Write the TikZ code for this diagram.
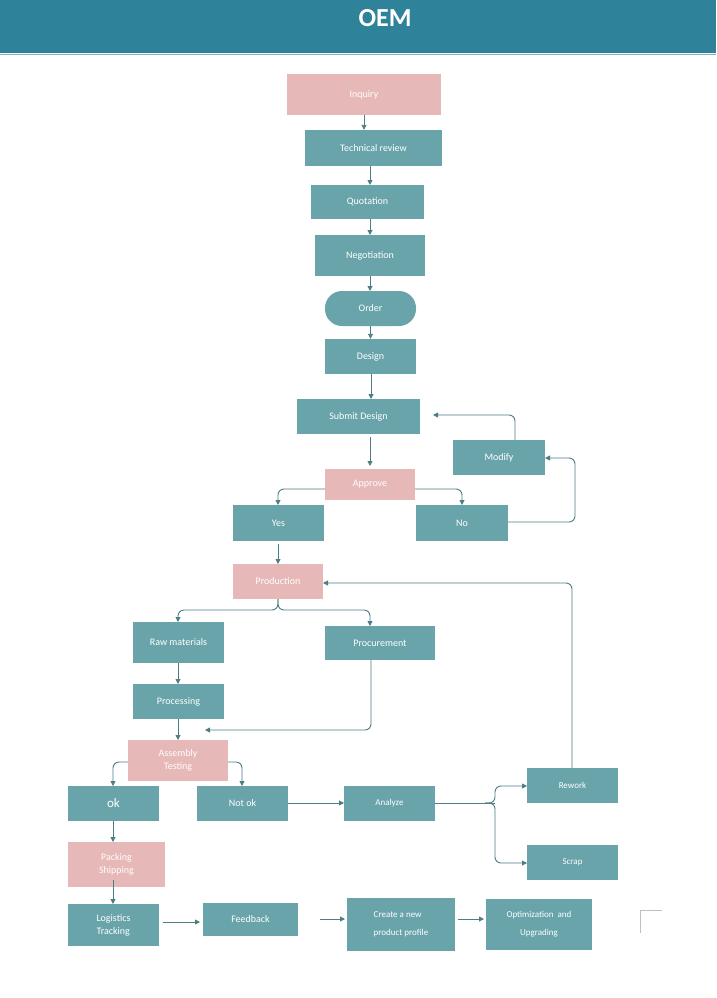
\documentclass[tikz,border=0pt]{standalone}
\usepackage{fontspec}
\setmainfont{Carlito}
\usetikzlibrary{arrows.meta}
\definecolor{teal1}{HTML}{68A4AA}
\definecolor{pink1}{HTML}{E6B8B7}
\definecolor{head}{HTML}{2E8299}
\definecolor{ln}{HTML}{4D7E84}
\begin{document}
\begin{tikzpicture}[x=1pt,y=-1pt,
 bx/.style={draw=none,text=white,font=\fontsize{10}{13}\selectfont,align=center,inner sep=0},
 arr/.style={draw=ln,line width=0.9pt,-{Triangle[length=5pt,width=5pt]},rounded corners=6pt},
 ln/.style={draw=ln,line width=0.9pt,rounded corners=6pt}]
\useasboundingbox (0,0) rectangle (716,998);
\fill[white] (0,0) rectangle (716,998);
\fill[head] (0,0) rectangle (716,53);
\draw[head!60,line width=1pt] (0,54.5) -- (716,54.5);
\node[text=white,font=\bfseries\fontsize{26}{30}\selectfont] (title) at (385,18) {OEM};
\newcommand\bxx[6]{\fill[#6] (#2,#3) rectangle (#4,#5); \node[bx,minimum width=#4pt-#2pt,minimum height=#5pt-#3pt] (#1) at ({(#2+#4)/2},{(#3+#5)/2}) {};}
\newcommand\lab[2]{\node[bx] at (#1) {#2};}
\bxx{inq}{287}{74}{441}{115}{pink1}\lab{inq}{Inquiry}
\bxx{tech}{305}{130}{442}{166}{teal1}\lab{tech}{Technical review}
\bxx{quo}{311}{185}{424}{219}{teal1}\lab{quo}{Quotation}
\bxx{neg}{315}{235}{425}{276}{teal1}\lab{neg}{Negotiation}
\fill[teal1,rounded corners=17pt] (325,291) rectangle (416,326);
\node[bx,minimum width=91pt,minimum height=35pt] (ord) at (370.5,308.5) {Order};
\bxx{des}{325}{339}{416}{374}{teal1}\lab{des}{Design}
\bxx{sub}{297}{399}{420}{434}{teal1}\lab{sub}{Submit Design}
\bxx{mod}{453}{440}{545}{475}{teal1}\lab{mod}{Modify}
\bxx{app}{325}{469}{415}{500}{pink1}\lab{app}{Approve}
\bxx{yes}{233}{505}{324}{541}{teal1}\lab{yes}{Yes}
\bxx{no}{416}{505}{508}{541}{teal1}\lab{no}{No}
\bxx{prod}{233}{564}{323}{599}{pink1}\lab{prod}{Production}
\bxx{raw}{133}{622}{224}{663}{teal1}\lab{raw}{Raw materials}
\bxx{proc}{325}{626}{435}{660}{teal1}\lab{proc}{Procurement}
\bxx{pros}{133}{684}{224}{719}{teal1}\lab{pros}{Processing}
\bxx{asm}{128}{740}{228}{781}{pink1}\lab{asm}{Assembly\\Testing}
\bxx{ok}{68}{786}{159}{821}{teal1}\node[bx,font=\fontsize{13}{15}\selectfont] at (ok) {ok};
\bxx{nok}{197}{786}{288}{821}{teal1}\lab{nok}{Not ok}
\bxx{ana}{344}{786}{435}{821}{teal1}\node[bx,font=\fontsize{9}{11}\selectfont] at (ana) {Analyze};
\bxx{rew}{527}{768}{618}{803}{teal1}\node[bx,font=\fontsize{9}{11}\selectfont] at (rew) {Rework};
\bxx{scr}{527}{845}{618}{880}{teal1}\node[bx,font=\fontsize{9}{11}\selectfont] at (scr) {Scrap};
\bxx{pack}{68}{842}{165}{887}{pink1}\lab{pack}{Packing\\Shipping}
\bxx{log}{68}{904}{159}{946}{teal1}\node[bx,align=left] at (log) {Logistics\\Tracking};
\bxx{fb}{203}{903}{298}{936}{teal1}\lab{fb}{Feedback}
\bxx{cre}{347}{898}{455}{951}{teal1}\node[bx,font=\fontsize{9}{18}\selectfont,align=left] at (cre) {Create a new\\product profile};
\bxx{opt}{486}{899}{592}{950}{teal1}\node[bx,font=\fontsize{9}{18}\selectfont] at (opt) {Optimization\ \ and\\Upgrading};
% corner mark
\draw[gray!50,line width=0.8pt] (662,910) -- (640,910) -- (640,933);
% connectors
\draw[arr] (inq.south) -- (inq.south|-tech.north);
\draw[arr] (tech.south -| 370,0) -- (370,185);
\draw[arr] (370,219) -- (370,235);
\draw[arr] (370,276) -- (370,291);
\draw[arr] (ord.south) -- (des.north);
\draw[arr] (371,374) -- (371,399);
\draw[arr] (370,437) -- (370,466);
\draw[arr] (325,489) -- (278,489) -- (278,505);
\draw[arr] (415,489) -- (462,489) -- (462,505);
\draw[arr] (508,522) -- (575,522) -- (575,458) -- (545,458);
\draw[arr] (515,440) -- (515,415) -- (433,415);
\draw[arr] (278,544) -- (278,564);
\draw[arr] (278,599) -- (278,610) -- (178,610) -- (178,622);
\draw[arr] (278,599) -- (278,610) -- (370,610) -- (370,626);
\draw[arr] (572,768) -- (572,583) -- (323,583);
\draw[arr] (178,663) -- (178,684);
\draw[arr] (371,660) -- (371,730) -- (205,730);
\draw[arr] (178,719) -- (178,740);
\draw[arr] (128,762) -- (113,762) -- (113,786);
\draw[arr] (228,762) -- (242,762) -- (242,786);
\draw[arr] (288,803) -- (344,803);
\draw[ln] (435,803) -- (495,803);
\draw[arr] (485,803) -- (495,803) -- (495,786) -- (527,786);
\draw[arr] (485,803) -- (495,803) -- (495,863) -- (527,863);
\draw[arr] (113,821) -- (113,842);
\draw[arr] (113,880) -- (113,904);
\draw[arr] (163,922) -- (200,922);
\draw[arr] (320,919) -- (345,919);
\draw[arr] (458,919) -- (484,919);
\end{tikzpicture}
\end{document}
